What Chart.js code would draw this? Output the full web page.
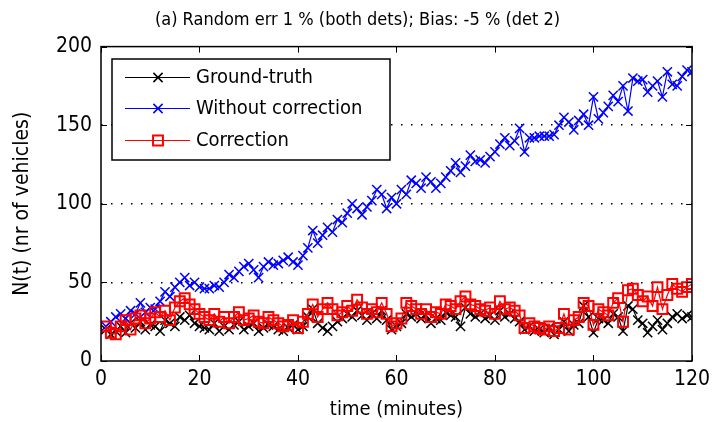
<!DOCTYPE html>
<html>
<head>
<meta charset="utf-8">
<script src="https://cdn.jsdelivr.net/npm/chart.js@4/dist/chart.umd.min.js"></script>
<style>
  html, body { margin: 0; padding: 0; background: #ffffff; }
  #wrap { width: 716px; height: 422px; }
</style>
</head>
<body>
<div id="wrap"><canvas id="c" width="716" height="422"></canvas></div>
<script>
// Time axis (minutes)
const minutes = [
  1, 2, 3, 4, 5, 6, 7, 8, 9, 10,
  11, 12, 13, 14, 15, 16, 17, 18, 19, 20,
  21, 22, 23, 24, 25, 26, 27, 28, 29, 30,
  31, 32, 33, 34, 35, 36, 37, 38, 39, 40,
  41, 42, 43, 44, 45, 46, 47, 48, 49, 50,
  51, 52, 53, 54, 55, 56, 57, 58, 59, 60,
  61, 62, 63, 64, 65, 66, 67, 68, 69, 70,
  71, 72, 73, 74, 75, 76, 77, 78, 79, 80,
  81, 82, 83, 84, 85, 86, 87, 88, 89, 90,
  91, 92, 93, 94, 95, 96, 97, 98, 99, 100,
  101, 102, 103, 104, 105, 106, 107, 108, 109, 110,
  111, 112, 113, 114, 115, 116, 117, 118, 119, 120
];

// N(t): ground truth
const groundTruth = [
  20, 17, 19, 22, 18, 24, 21, 25, 20, 23,
  22, 19, 26, 24, 22, 28, 26, 29, 24, 22,
  21, 20, 24, 19, 22, 20, 23, 25, 20, 22,
  24, 19, 21, 23, 22, 20, 19, 21, 23, 20,
  22, 28, 33, 24, 21, 19, 22, 25, 27, 30,
  28, 32, 29, 26, 30, 27, 32, 26, 20, 22,
  24, 30, 28, 30, 27, 29, 24, 27, 26, 31,
  29, 28, 22, 34, 30, 28, 30, 27, 29, 26,
  32, 28, 30, 27, 25, 20, 22, 19, 20, 18,
  21, 17, 20, 25, 19, 23, 24, 35, 28, 18,
  27, 26, 24, 30, 28, 19, 35, 33, 26, 24,
  18, 22, 26, 20, 24, 28, 30, 27, 29, 28
];

// N(t): estimate without correction
const withoutCorrection = [
  22, 25, 28, 30, 27, 32, 30, 37, 31, 34,
  33, 38, 44, 41, 47, 50, 53, 48, 50, 47,
  46, 46, 48, 47, 50, 55, 53, 57, 60, 62,
  58, 53, 60, 63, 61, 62, 64, 66, 63, 61,
  67, 72, 83, 75, 80, 85, 82, 90, 88, 94,
  100, 97, 93, 98, 102, 109, 106, 97, 104, 100,
  109, 106, 115, 113, 110, 117, 114, 110, 113, 117,
  121, 126, 120, 124, 131, 127, 128, 126, 130, 133,
  138, 142, 137, 140, 148, 133, 142, 142, 143, 143,
  143, 144, 150, 155, 152, 147, 153, 157, 150, 168,
  154, 158, 162, 169, 165, 175, 159, 180, 178, 179,
  171, 175, 178, 168, 184, 176, 175, 181, 185, 184
];

// N(t): estimate with correction
const withCorrection = [
  22, 18, 17, 22, 26, 20, 27, 29, 24, 27,
  31, 28, 32, 26, 34, 38, 40, 36, 33, 30,
  28, 26, 30, 25, 28, 24, 28, 31, 26, 27,
  29, 25, 24, 28, 26, 24, 22, 23, 26, 21,
  25, 30, 36, 28, 33, 37, 33, 29, 31, 35,
  32, 39, 34, 30, 33, 31, 37, 30, 22, 24,
  27, 37, 35, 33, 30, 33, 28, 31, 30, 36,
  35, 33, 38, 41, 36, 35, 33, 32, 34, 30,
  38, 33, 34, 32, 29, 21, 24, 22, 21, 20,
  22, 19, 21, 30, 20, 26, 28, 37, 35, 23,
  33, 31, 29, 37, 40, 25, 45, 46, 42, 38,
  41, 35, 47, 33, 42, 49, 46, 44, 47, 49
];

const seriesNames = ['Ground-truth', 'Without correction', 'Correction'];
const xTicks = [0, 20, 40, 60, 80, 100, 120];
const yTicks = [0, 50, 100, 150, 200];

const FONT = "'Liberation Sans Narrow', 'DejaVu Sans Condensed', 'Liberation Sans', sans-serif";

const toPoints = (ys) => ys.map((v, i) => ({ x: minutes[i], y: v }));

// MATLAB-style box: frame, inward ticks on all sides, and a boxed legend with line + marker samples
const boxPlugin = {
  id: 'matlabBox',
  afterDraw(chart) {
    const ctx = chart.ctx;
    const a = chart.chartArea;
    const xs = chart.scales.x, ys = chart.scales.y;
    ctx.save();
    ctx.strokeStyle = '#000';
    ctx.lineWidth = 1.5;
    ctx.strokeRect(a.left, a.top, a.right - a.left, a.bottom - a.top);
    ctx.lineWidth = 1;
    const tl = 6;
    ctx.beginPath();
    xTicks.forEach(v => {
      const px = Math.round(xs.getPixelForValue(v)) + 0.5;
      ctx.moveTo(px, a.bottom); ctx.lineTo(px, a.bottom - tl);
      ctx.moveTo(px, a.top); ctx.lineTo(px, a.top + tl);
    });
    yTicks.forEach(v => {
      const py = Math.round(ys.getPixelForValue(v)) + 0.5;
      ctx.moveTo(a.left, py); ctx.lineTo(a.left + tl, py);
      ctx.moveTo(a.right, py); ctx.lineTo(a.right - tl, py);
    });
    ctx.stroke();

    // legend
    const L = { left: 112, top: 59, right: 390, bottom: 160 };
    ctx.fillStyle = '#fff';
    ctx.fillRect(L.left, L.top, L.right - L.left, L.bottom - L.top);
    ctx.lineWidth = 1.5;
    ctx.strokeStyle = '#000';
    ctx.strokeRect(L.left, L.top, L.right - L.left, L.bottom - L.top);
    const rowY = [77, 108, 140];
    ctx.font = '20px ' + FONT;
    ctx.textBaseline = 'middle';
    chart.data.datasets.forEach((ds, i) => {
      const y = rowY[i];
      ctx.strokeStyle = ds.borderColor;
      ctx.lineWidth = 1.2;
      ctx.beginPath();
      ctx.moveTo(125, y + 0.5); ctx.lineTo(190, y + 0.5);
      ctx.stroke();
      ctx.fillStyle = 'rgba(0,0,0,0)';
      ctx.lineWidth = ds.pointBorderWidth;
      Chart.helpers.drawPoint(ctx, {
        pointStyle: ds.pointStyle, radius: ds.pointRadius, rotation: 0, borderWidth: ds.pointBorderWidth
      }, 158, y + 0.5);
      ctx.fillStyle = '#000';
      ctx.fillText(ds.label, 196, y + 1);
    });
    ctx.restore();
  }
};

new Chart(document.getElementById('c'), {
  type: 'line',
  data: {
    datasets: [
      {
        label: seriesNames[0], data: toPoints(groundTruth),
        borderColor: '#000000', backgroundColor: 'rgba(0,0,0,0)',
        pointStyle: 'crossRot', pointRadius: 6.5, pointBorderWidth: 1.5,
        borderWidth: 1.2, order: 2
      },
      {
        label: seriesNames[1], data: toPoints(withoutCorrection),
        borderColor: '#0000ff', backgroundColor: 'rgba(0,0,0,0)',
        pointStyle: 'crossRot', pointRadius: 6.5, pointBorderWidth: 1.5,
        borderWidth: 1.2, order: 1
      },
      {
        label: seriesNames[2], data: toPoints(withCorrection),
        borderColor: '#ff0000', backgroundColor: 'rgba(0,0,0,0)',
        pointStyle: 'rect', pointRadius: 7, pointBorderWidth: 2,
        borderWidth: 1.2, order: 0
      }
    ]
  },
  options: {
    responsive: false,
    animation: false,
    devicePixelRatio: 1,
    layout: { padding: { left: 10, right: 11, top: 0, bottom: 0 } },
    elements: { line: { tension: 0, fill: false } },
    plugins: {
      legend: { display: false },
      tooltip: { enabled: false },
      title: {
        display: true,
        text: '(a) Random err 1 % (both dets); Bias: -5 % (det 2)',
        color: '#000',
        font: { family: FONT, size: 18, weight: 'normal', lineHeight: 1.2 },
        padding: { top: 10, bottom: 15 }
      }
    },
    scales: {
      x: {
        type: 'linear', min: 0, max: 120,
        afterBuildTicks: (s) => { s.ticks = xTicks.map(v => ({ value: v })); },
        afterFit: (s) => { s.height = 61; },
        grid: { display: false, drawTicks: false },
        border: { display: false },
        ticks: { color: '#000', padding: 6, font: { family: FONT, size: 21 } },
        title: {
          display: true, text: 'time (minutes)', color: '#000',
          font: { family: FONT, size: 20 }, padding: { top: 2, bottom: 0 }
        }
      },
      y: {
        type: 'linear', min: 0, max: 200,
        afterBuildTicks: (s) => { s.ticks = yTicks.map(v => ({ value: v })); },
        afterFit: (s) => { s.width = 91; },
        grid: {
          drawTicks: false, lineWidth: 1.5,
          color: (c) => (c.tick && c.tick.value > 0 && c.tick.value < 200) ? '#000' : 'rgba(0,0,0,0)'
        },
        border: { display: false, dash: [1.5, 8.5] },
        ticks: { color: '#000', padding: 9, font: { family: FONT, size: 21 } },
        title: {
          display: true, text: 'N(t) (nr of vehicles)', color: '#000',
          font: { family: FONT, size: 21 }, padding: { top: 0, bottom: 0 }
        }
      }
    }
  },
  plugins: [boxPlugin]
});
</script>
</body>
</html>
